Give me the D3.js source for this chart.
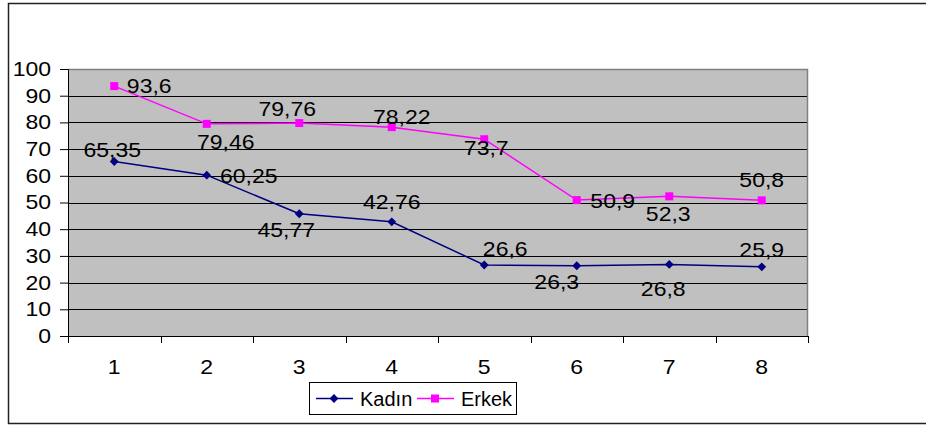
<!DOCTYPE html>
<html><head><meta charset="utf-8">
<script src="https://cdn.jsdelivr.net/npm/d3@7"></script>
<style>body{margin:0;background:#fff;} text{font-family:"Liberation Sans",Arial,sans-serif;}</style>
</head><body><svg id="c" width="926" height="425"></svg>
<script>
const categories = ["1","2","3","4","5","6","7","8"];
const kadin = [65.35, 60.25, 45.77, 42.76, 26.6, 26.3, 26.8, 25.9];
const erkek = [93.6, 79.46, 79.76, 78.22, 73.7, 50.9, 52.3, 50.8];
const kadinLabels = ["65,35","60,25","45,77","42,76","26,6","26,3","26,8","25,9"];
const erkekLabels = ["93,6","79,46","79,76","78,22","73,7","50,9","52,3","50,8"];
const yTicks = [0,10,20,30,40,50,60,70,80,90,100];
// label offsets (centre dx, baseline dy) relative to point
const kadinLabelPos = [[-2,-5],[42,8],[-13,23],[0,-13],[21,-9],[-20,23],[-6,32],[0,-10]];
const erkekLabelPos = [[35,7],[19,25],[-12,-7],[10,-3],[2,16],[36,8],[-1,25],[0,-13]];

const svg = d3.select("#c");
const L=68, R=808, T=69, B=336;
const FS = 20, SX = 1.15;
const x = d3.scaleBand().domain(categories).range([L,R]);
const y = d3.scaleLinear().domain([0,100]).range([B,T]);

function stretch(sel){
  sel.each(function(){
    const t = d3.select(this);
    const tx = +t.attr("x")||0, ty = +t.attr("y")||0;
    t.attr("x",0).attr("y",0).attr("transform",`translate(${tx},${ty}) scale(${SX},1)`);
  });
}

// outer border
svg.append("rect").attr("x",8.5).attr("y",3.5).attr("width",940).attr("height",420)
  .attr("fill","#fff").attr("stroke","#222").attr("stroke-width",1.5);

// plot area
svg.append("rect").attr("x",L).attr("y",T).attr("width",R-L).attr("height",B-T).attr("fill","#c0c0c0");
svg.append("path").attr("d",`M${L},${T+0.5}H${R-0.5}V${B}`).attr("fill","none").attr("stroke","#808080").attr("stroke-width",1.5);

// gridlines
svg.append("g").selectAll("line").data(yTicks.filter(d=>d>0&&d<100)).join("line")
  .attr("x1",L).attr("x2",R-1).attr("y1",d=>Math.round(y(d))+0.5).attr("y2",d=>Math.round(y(d))+0.5)
  .attr("stroke","#000").attr("stroke-width",1);

// y axis
const ya = svg.append("g").attr("transform",`translate(${L},0)`)
  .call(d3.axisLeft(y).tickValues(yTicks).tickSize(8).tickPadding(9).tickFormat(d3.format("d")));
ya.select(".domain").attr("stroke","#000");
ya.selectAll("line").attr("stroke","#000");
ya.selectAll("text").attr("font-size",FS).attr("fill","#000").attr("font-family","Liberation Sans, Arial, sans-serif").call(stretch);

// x axis
const xa = svg.append("g").attr("transform",`translate(0,${B})`)
  .call(d3.axisBottom(x).tickSize(0).tickPadding(24));
xa.select(".domain").attr("stroke","#000");
xa.selectAll("text").attr("font-size",FS).attr("fill","#000").attr("font-family","Liberation Sans, Arial, sans-serif").call(stretch);
// x tick marks at band boundaries
svg.append("g").selectAll("line").data(categories.concat(["end"])).join("line")
  .attr("x1",(d,i)=>Math.round(L+i*x.bandwidth())+0.5).attr("x2",(d,i)=>Math.round(L+i*x.bandwidth())+0.5)
  .attr("y1",B).attr("y2",B+7).attr("stroke","#000");

const cx = (d,i)=>x(categories[i])+x.bandwidth()/2;
const line = d3.line().x((d,i)=>cx(d,i)).y(d=>y(d));

function series(vals, color, marker, labels, pos){
  svg.append("path").datum(vals).attr("d",line).attr("fill","none").attr("stroke",color).attr("stroke-width",1.5);
  const sym = marker==="diamond" ? d3.symbol().type(d3.symbolDiamond2).size(50) : d3.symbol().type(d3.symbolSquare).size(64);
  svg.append("g").selectAll("path").data(vals).join("path")
    .attr("d", sym).attr("transform",(d,i)=>`translate(${cx(d,i)},${y(d)})`).attr("fill",color);
  svg.append("g").selectAll("text").data(vals).join("text")
    .attr("x",(d,i)=>cx(d,i)+pos[i][0]).attr("y",(d,i)=>y(d)+pos[i][1])
    .attr("text-anchor","middle").attr("font-size",FS).attr("fill","#000").text((d,i)=>labels[i])
    .call(stretch);
}
series(kadin,"#000080","diamond",kadinLabels,kadinLabelPos);
series(erkek,"#ff00ff","square",erkekLabels,erkekLabelPos);

// legend
const lg = svg.append("g");
lg.append("rect").attr("x",309.5).attr("y",382.5).attr("width",207).attr("height",32).attr("fill","#fff").attr("stroke","#000");
const items = [{name:"Kadın",color:"#000080",m:"diamond",x0:316},{name:"Erkek",color:"#ff00ff",m:"square",x0:417}];
items.forEach(it=>{
  lg.append("line").attr("x1",it.x0).attr("x2",it.x0+37).attr("y1",398.5).attr("y2",398.5).attr("stroke",it.color).attr("stroke-width",1.5);
  const sym = it.m==="diamond" ? d3.symbol().type(d3.symbolDiamond2).size(50) : d3.symbol().type(d3.symbolSquare).size(64);
  lg.append("path").attr("d",sym).attr("transform",`translate(${it.x0+18},398.5)`).attr("fill",it.color);
  lg.append("text").attr("x",it.x0+44).attr("y",406).attr("font-size",20).attr("fill","#000").text(it.name);
});
</script></body></html>
